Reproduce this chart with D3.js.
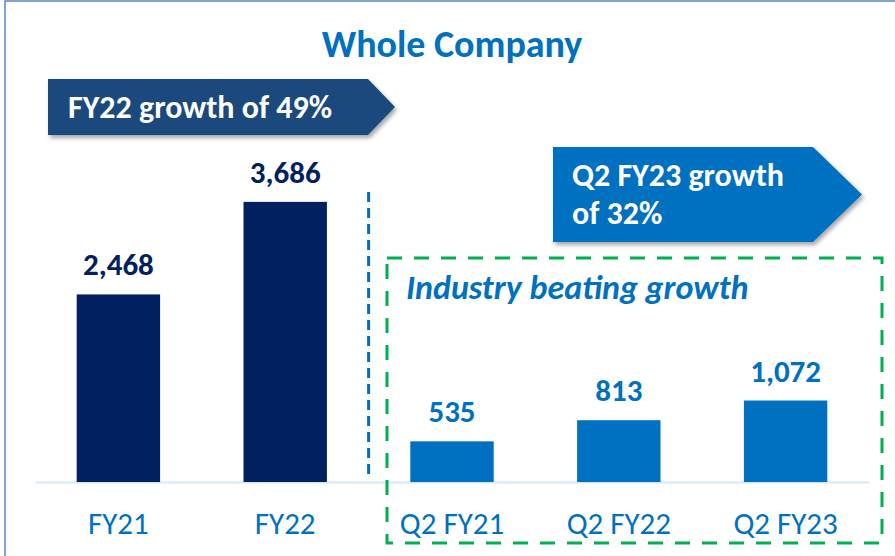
<!DOCTYPE html>
<html>
<head>
<meta charset="utf-8">
<script src="https://cdn.jsdelivr.net/npm/d3@7"></script>
<style>
  body { margin: 0; background: #fff; }
  svg { display: block; font-family: Carlito, Calibri, Lato, sans-serif; }
</style>
</head>
<body>
<div id="chart"></div>
<script>
// data
const categories = ['FY21', 'FY22', 'Q2 FY21', 'Q2 FY22', 'Q2 FY23'];
const values = [2468, 3686, 535, 813, 1072];
const periods = ['annual', 'annual', 'quarter', 'quarter', 'quarter'];
const title = 'Whole Company';
const annualCallout = ['FY22 growth of 49%'];
const quarterCallout = ['Q2 FY23 growth', 'of 32%'];
const boxLabel = 'Industry beating growth';

const width = 895, height = 556;
const baseY = 482;

const svg = d3.select('#chart').append('svg')
  .attr('width', width)
  .attr('height', height);

const defs = svg.append('defs');
defs.append('filter').attr('id', 'shadow')
  .attr('x', '-10%').attr('y', '-20%').attr('width', '130%').attr('height', '160%')
  .append('feDropShadow')
  .attr('dx', 2).attr('dy', 3).attr('stdDeviation', 2)
  .attr('flood-color', '#000').attr('flood-opacity', 0.35);

// frame (only top & left edges visible)
svg.append('rect')
  .attr('x', 5).attr('y', 1)
  .attr('width', width + 20).attr('height', height + 20)
  .attr('fill', 'none')
  .attr('stroke', '#5a87c0')
  .attr('stroke-width', 1.5);

const xScale = d3.scaleBand()
  .domain(categories)
  .range([35, 869])
  .paddingInner(0.5)
  .paddingOuter(0.25);

const yScale = d3.scaleLinear()
  .domain([0, 4000])
  .range([baseY, 178]);

const color = d3.scaleOrdinal()
  .domain(['annual', 'quarter'])
  .range(['#00205f', '#0070c0']);

// title
svg.append('text')
  .attr('x', 452).attr('y', 57)
  .attr('text-anchor', 'middle')
  .attr('font-size', 38)
  .attr('font-weight', 'bold')
  .attr('fill', '#0070c0')
  .text(title);

// axis
const xAxis = svg.append('g')
  .attr('class', 'axis axis--x')
  .attr('transform', `translate(0, ${baseY})`)
  .call(d3.axisBottom(xScale).tickSize(0).tickSizeOuter(0));

xAxis.select('.domain')
  .attr('stroke', '#d3e9fb')
  .attr('stroke-width', 2);

xAxis.selectAll('text')
  .attr('y', 52)
  .attr('dy', null)
  .attr('font-family', 'Carlito, Calibri, Lato, sans-serif')
  .attr('font-size', 31)
  .attr('fill', '#0070c0');

// bars
const bw = xScale.bandwidth();
svg.selectAll('.bar')
  .data(values)
  .enter()
  .append('rect')
  .attr('class', 'bar')
  .attr('x', (d, i) => xScale(categories[i]))
  .attr('y', d => yScale(d))
  .attr('width', bw)
  .attr('height', d => baseY - yScale(d))
  .attr('fill', (d, i) => color(periods[i]));

svg.selectAll('.value')
  .data(values)
  .enter()
  .append('text')
  .attr('class', 'value')
  .attr('x', (d, i) => xScale(categories[i]) + bw / 2)
  .attr('y', d => yScale(d) - 19)
  .attr('text-anchor', 'middle')
  .attr('font-size', 31)
  .attr('font-weight', 'bold')
  .attr('fill', (d, i) => color(periods[i]))
  .text(d => d3.format(',')(d));

// divider between annual and quarterly
const divX = (xScale('FY22') + bw + xScale('Q2 FY21')) / 2;
svg.append('line')
  .attr('x1', divX).attr('x2', divX)
  .attr('y1', 192).attr('y2', 480)
  .attr('stroke', '#0070c0')
  .attr('stroke-width', 3)
  .attr('stroke-dasharray', '10,6');

// green box
svg.append('rect')
  .attr('x', 387).attr('y', 258)
  .attr('width', 882 - 387).attr('height', 543 - 258)
  .attr('fill', 'none')
  .attr('stroke', '#00b050')
  .attr('stroke-width', 3)
  .attr('stroke-dasharray', '15,12');

svg.append('text')
  .attr('x', 406).attr('y', 299)
  .attr('font-size', 34)
  .attr('font-weight', 'bold')
  .attr('font-style', 'italic')
  .attr('fill', '#0070c0')
  .text(boxLabel);

// arrow callouts
function arrow(x0, y0, x1, tip, y1) {
  const p = d3.path();
  p.moveTo(x0, y0);
  p.lineTo(x1, y0);
  p.lineTo(tip, (y0 + y1) / 2);
  p.lineTo(x1, y1);
  p.lineTo(x0, y1);
  p.closePath();
  return p.toString();
}

svg.append('path')
  .attr('d', arrow(48, 79, 368, 395, 135))
  .attr('fill', '#1f497d')
  .attr('filter', 'url(#shadow)');

svg.append('text')
  .attr('x', 68).attr('y', 118)
  .attr('font-size', 32)
  .attr('font-weight', 'bold')
  .attr('fill', '#fff')
  .text(annualCallout[0]);

svg.append('path')
  .attr('d', arrow(553, 147, 813, 862, 242))
  .attr('fill', '#0070c0')
  .attr('filter', 'url(#shadow)');

svg.append('text')
  .attr('font-size', 32)
  .attr('font-weight', 'bold')
  .attr('fill', '#fff')
  .selectAll('tspan')
  .data(quarterCallout)
  .enter()
  .append('tspan')
  .attr('x', 572)
  .attr('y', (d, i) => 186 + i * 38)
  .text(d => d);
</script>
</body>
</html>
